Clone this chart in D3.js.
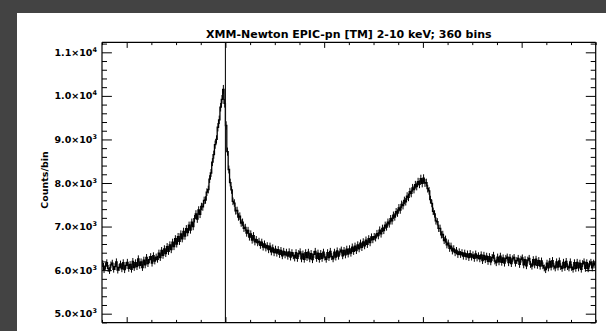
<!DOCTYPE html>
<html>
<head>
<meta charset="utf-8">
<script src="https://cdn.jsdelivr.net/npm/d3@7"></script>
<style>
  html, body { margin: 0; padding: 0; background: #434343; }
  svg { display: block; }
  text { font-family: "DejaVu Sans", "Liberation Sans", sans-serif; font-weight: bold; fill: #000; }
</style>
</head>
<body>
<svg id="chart" width="606" height="331"></svg>
<script>
// Pulse profile: counts per phase bin (360 bins)
const titleText = "XMM-Newton EPIC-pn [TM] 2-10 keV; 360 bins";
const yTitle = "Counts/bin";
const phaseStart = -0.25;
const phaseEnd = 0.75;
const markerPhase = 0.0;
const xTicks = [-0.2, 0.0, 0.2, 0.4, 0.6];
const xTickLabels = ["-0.2", "0.0", "0.2", "0.4", "0.6"];
const yTicks = [5000, 6000, 7000, 8000, 9000, 10000, 11000];
const yTickMant = ["5.0", "6.0", "7.0", "8.0", "9.0", "1.0", "1.1"];
const yTickExp = ["3", "3", "3", "3", "3", "4", "4"];
const yRange = [4793, 11230];

const counts = [
  6150, 6010, 6090, 6170, 6040, 5990, 6120, 6160, 6020, 6080, 6190, 6000, 6060, 6140, 6030, 6170, 6010, 6110, 6180, 6040,
  6130, 6020, 6200, 6060, 6170, 6080, 6260, 6110, 6190, 6060, 6230, 6120, 6290, 6150, 6240, 6310, 6160, 6330, 6210, 6300,
  6250, 6390, 6290, 6450, 6340, 6490, 6380, 6540, 6430, 6580, 6470, 6640, 6540, 6720, 6600, 6770, 6660, 6830, 6720, 6890,
  6780, 6950, 6860, 7030, 6920, 7100, 7000, 7180, 7290, 7170, 7380, 7280, 7460, 7450, 7600, 7610, 7790, 7850, 8090, 8230,
  8480, 8650, 8880, 9000, 9280, 9450, 9740, 9920, 10150, 9830, 9320, 8720, 8310, 8010, 7840, 7580, 7540, 7360, 7370, 7220,
  7240, 7080, 7100, 6960, 6980, 6850, 6910, 6760, 6830, 6690, 6790, 6650, 6700, 6630, 6660, 6570, 6640, 6530, 6600, 6510,
  6560, 6470, 6550, 6420, 6510, 6400, 6480, 6390, 6470, 6360, 6450, 6330, 6430, 6350, 6410, 6320, 6420, 6300, 6400, 6330,
  6280, 6400, 6270, 6380, 6420, 6260, 6370, 6250, 6400, 6290, 6410, 6260, 6380, 6240, 6360, 6430, 6270, 6390, 6250, 6380,
  6270, 6410, 6300, 6250, 6400, 6290, 6430, 6310, 6260, 6410, 6300, 6440, 6320, 6420, 6460, 6330, 6450, 6350, 6480, 6370,
  6490, 6390, 6530, 6430, 6550, 6450, 6580, 6490, 6620, 6520, 6650, 6560, 6690, 6590, 6720, 6630, 6760, 6700, 6770, 6740,
  6840, 6790, 6920, 6830, 6960, 6910, 7030, 6990, 7100, 7060, 7180, 7130, 7260, 7220, 7340, 7310, 7430, 7380, 7510, 7480,
  7600, 7570, 7700, 7670, 7800, 7760, 7890, 7850, 7960, 7920, 8030, 7970, 8100, 7990, 8110, 8000, 8010, 7870, 7820, 7620,
  7530, 7350, 7290, 7130, 7110, 6960, 6960, 6810, 6820, 6680, 6710, 6580, 6620, 6500, 6550, 6440, 6490, 6400, 6450, 6360,
  6420, 6360, 6400, 6320, 6390, 6310, 6370, 6290, 6380, 6300, 6350, 6270, 6370, 6280, 6330, 6260, 6350, 6220, 6340, 6240,
  6320, 6200, 6310, 6190, 6290, 6340, 6210, 6170, 6300, 6190, 6320, 6180, 6280, 6160, 6270, 6300, 6170, 6290, 6150, 6260,
  6290, 6160, 6220, 6270, 6130, 6250, 6280, 6120, 6240, 6100, 6230, 6270, 6130, 6090, 6240, 6120, 6250, 6110, 6220, 6090,
  6210, 6100, 6050, 6010, 6160, 6050, 6200, 6070, 6220, 6090, 6050, 6190, 6070, 6210, 6080, 6040, 6180, 6060, 6200, 6080,
  6050, 6190, 6060, 6020, 6170, 6040, 6180, 6050, 6160, 6020, 6150, 6190, 6040, 6170, 6030, 6140, 6180, 6050, 6160, 6120
];

const svg = d3.select("#chart");
const W = 606, H = 331;

// page panel
svg.append("rect").attr("x", 17).attr("y", 13).attr("width", W - 17).attr("height", H - 13).attr("fill", "#fff");

const frame = { left: 102, right: 595.7, top: 42.3, bottom: 322.7 };
const x = d3.scaleLinear().domain([phaseStart, phaseEnd]).range([frame.left, frame.right]);
const y = d3.scaleLinear().domain(yRange).range([frame.bottom, frame.top]);

const nBins = counts.length;
const binW = (phaseEnd - phaseStart) / nBins;
const pts = counts.map((c, i) => ({ p: phaseStart + (i + 0.5) * binW, c, err: Math.sqrt(c) }));

const plot = svg.append("g");
plot.append("defs").append("clipPath").attr("id", "clip")
  .append("rect").attr("x", frame.left).attr("y", frame.top)
  .attr("width", frame.right - frame.left).attr("height", frame.bottom - frame.top);

// Poisson error bars
plot.append("g").attr("clip-path", "url(#clip)").selectAll("line").data(pts).join("line")
  .attr("x1", d => x(d.p)).attr("x2", d => x(d.p))
  .attr("y1", d => y(d.c - d.err)).attr("y2", d => y(d.c + d.err))
  .attr("stroke", "#000").attr("stroke-width", 1);

// histogram-style profile
const line = d3.line().x(d => x(d.p)).y(d => y(d.c)).curve(d3.curveStep);
plot.append("path").datum(pts).attr("clip-path", "url(#clip)")
  .attr("d", line).attr("fill", "none").attr("stroke", "#000")
  .attr("stroke-width", 1.3);

// phase reference line
plot.append("line").attr("x1", x(markerPhase)).attr("x2", x(markerPhase))
  .attr("y1", frame.top).attr("y2", frame.bottom)
  .attr("stroke", "#111").attr("stroke-width", 1.1);

// axes with inward ticks
const xMinor = d3.range(-0.25, 0.7501, 0.05).map(v => +v.toFixed(3)).filter(v => !xTicks.some(t => Math.abs(t - v) < 1e-6));
const yMinor = d3.range(4800, 11201, 200).filter(v => v % 1000 !== 0);
const xMaj = 5.6, xMin = 2.8, yMaj = 9.9, yMin = 5;

const bottomAx = d3.axisBottom(x).tickValues(xTicks).tickSize(-xMaj).tickFormat("");
const topAx = d3.axisTop(x).tickValues(xTicks).tickSize(-xMaj).tickFormat("");
const leftAx = d3.axisLeft(y).tickValues(yTicks).tickSize(-yMaj).tickFormat("");
const rightAx = d3.axisRight(y).tickValues(yTicks).tickSize(-yMaj).tickFormat("");

function styleAxis(g) {
  g.select(".domain").attr("stroke", "#000").attr("stroke-width", 1.2);
  g.selectAll(".tick line").attr("stroke", "#000").attr("stroke-width", 1);
}
svg.append("g").attr("transform", `translate(0,${frame.bottom})`).call(bottomAx).call(styleAxis)
  .call(g => g.select(".domain").attr("d", `M${frame.left},0H${frame.right}`));
svg.append("g").attr("transform", `translate(0,${frame.top})`).call(topAx).call(styleAxis)
  .call(g => g.select(".domain").attr("d", `M${frame.left},0H${frame.right}`));
svg.append("g").attr("transform", `translate(${frame.left},0)`).call(leftAx).call(styleAxis)
  .call(g => g.select(".domain").attr("d", `M0,${frame.top}V${frame.bottom}`));
svg.append("g").attr("transform", `translate(${frame.right},0)`).call(rightAx).call(styleAxis)
  .call(g => g.select(".domain").attr("d", `M0,${frame.top}V${frame.bottom}`));

// minor ticks
svg.append("g").attr("transform", `translate(0,${frame.bottom})`)
  .call(d3.axisBottom(x).tickValues(xMinor).tickSize(-xMin).tickFormat("")).call(styleAxis)
  .call(g => g.select(".domain").remove());
svg.append("g").attr("transform", `translate(0,${frame.top})`)
  .call(d3.axisTop(x).tickValues(xMinor).tickSize(-xMin).tickFormat("")).call(styleAxis)
  .call(g => g.select(".domain").remove());
svg.append("g").attr("transform", `translate(${frame.left},0)`)
  .call(d3.axisLeft(y).tickValues(yMinor).tickSize(-yMin).tickFormat("")).call(styleAxis)
  .call(g => g.select(".domain").remove());
svg.append("g").attr("transform", `translate(${frame.right},0)`)
  .call(d3.axisRight(y).tickValues(yMinor).tickSize(-yMin).tickFormat("")).call(styleAxis)
  .call(g => g.select(".domain").remove());

// y tick labels, scientific notation
yTicks.forEach((v, i) => {
  const t = svg.append("text").attr("x", 97).attr("y", y(v) + 3.5)
    .attr("text-anchor", "end").attr("font-size", "9.5px");
  t.append("tspan").text(yTickMant[i] + "\u00d710");
  t.append("tspan").attr("dy", -4).attr("font-size", "6.5px").text(yTickExp[i]);
});

// x tick labels (sit at the lower page edge)
xTicks.forEach((v, i) => {
  svg.append("text").attr("x", x(v)).attr("y", 337.5).attr("text-anchor", "middle")
    .attr("font-size", "9.5px").text(xTickLabels[i]);
});

// titles
svg.append("text").attr("x", (frame.left + frame.right) / 2).attr("y", 38)
  .attr("text-anchor", "middle").attr("font-size", "11px").text(titleText);
svg.append("text").attr("transform", `translate(47.5,180) rotate(-90)`)
  .attr("text-anchor", "middle").attr("font-size", "9.5px").text(yTitle);
</script>
</body>
</html>
